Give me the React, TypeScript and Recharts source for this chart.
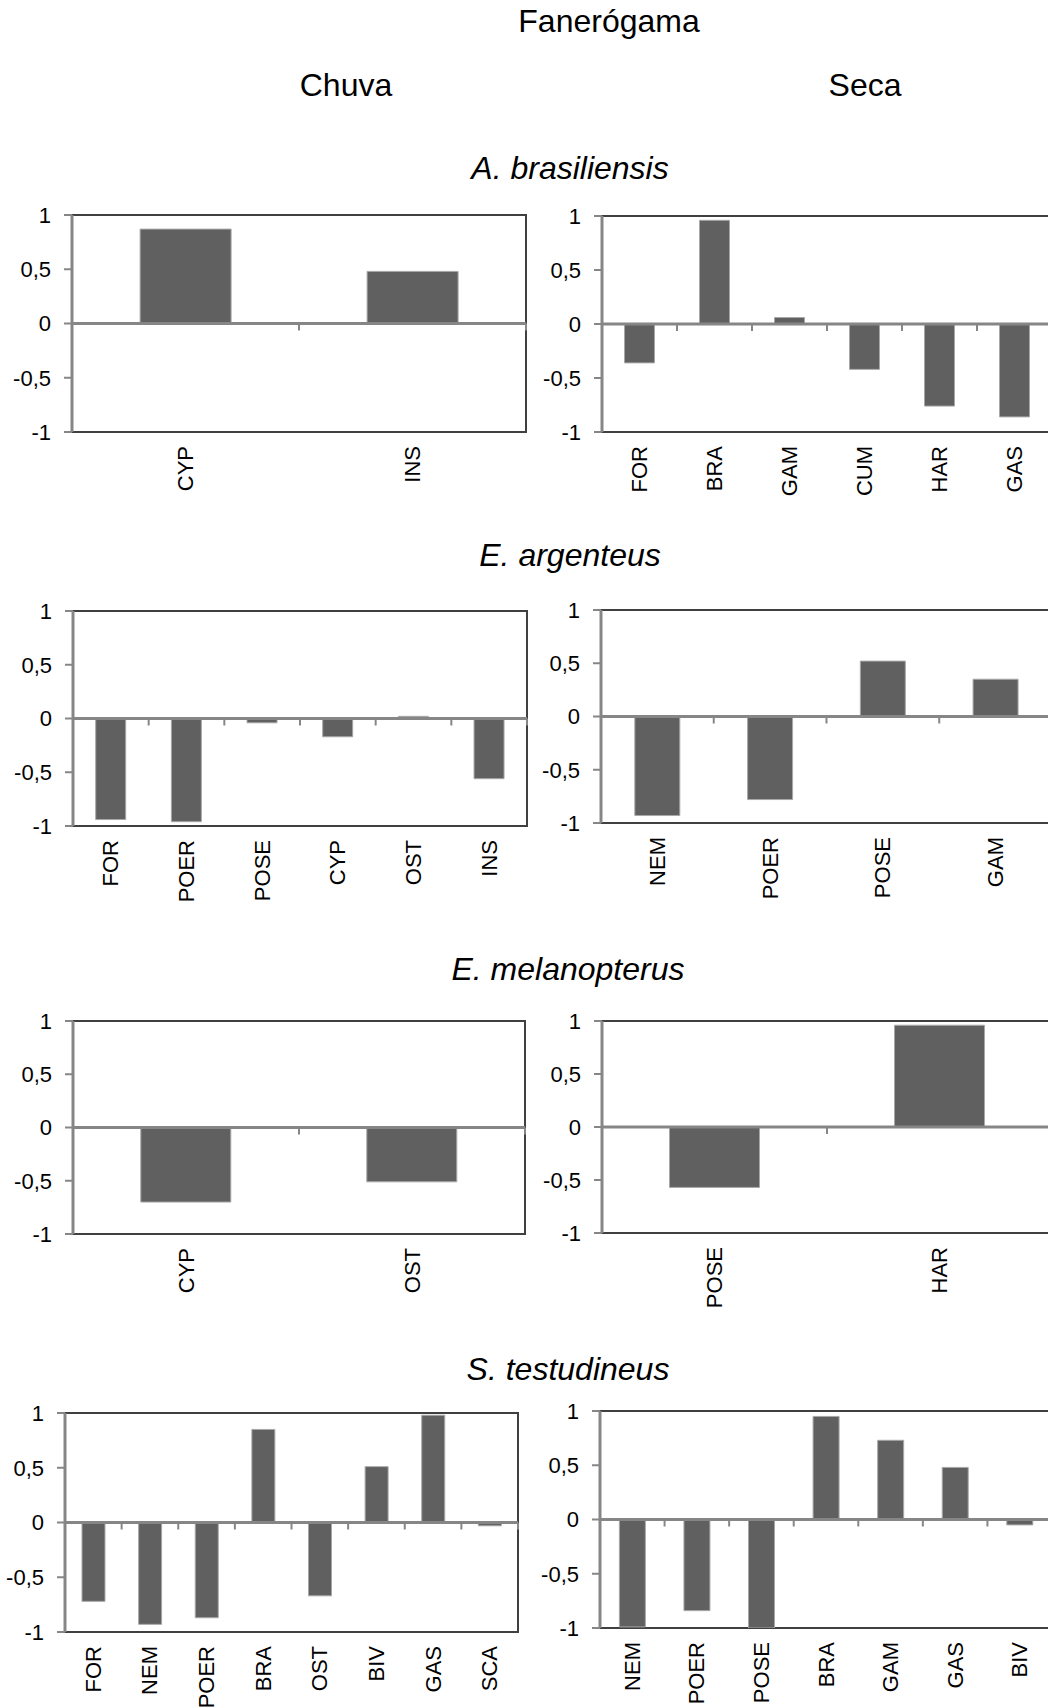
import React from "react";
import {
  BarChart,
  Bar,
  XAxis,
  YAxis,
  ReferenceLine,
  ReferenceArea,
} from "recharts";

// ---------------- data ----------------
const mainTitle = "Fanerógama";
const seasonLabels = ["Chuva", "Seca"];
const speciesNames = [
  "A. brasiliensis",
  "E. argenteus",
  "E. melanopterus",
  "S. testudineus",
];

const yTicks = [-1, -0.5, 0, 0.5, 1];

const abChuvaCats = ["CYP", "INS"];
const abChuvaVals = [0.87, 0.48];

const abSecaCats = ["FOR", "BRA", "GAM", "CUM", "HAR", "GAS"];
const abSecaVals = [-0.36, 0.96, 0.06, -0.42, -0.76, -0.86];

const eaChuvaCats = ["FOR", "POER", "POSE", "CYP", "OST", "INS"];
const eaChuvaVals = [-0.94, -0.96, -0.04, -0.17, 0.02, -0.56];

const eaSecaCats = ["NEM", "POER", "POSE", "GAM"];
const eaSecaVals = [-0.93, -0.78, 0.52, 0.35];

const emChuvaCats = ["CYP", "OST"];
const emChuvaVals = [-0.7, -0.51];

const emSecaCats = ["POSE", "HAR"];
const emSecaVals = [-0.57, 0.96];

const stChuvaCats = ["FOR", "NEM", "POER", "BRA", "OST", "BIV", "GAS", "SCA"];
const stChuvaVals = [-0.72, -0.93, -0.87, 0.85, -0.67, 0.51, 0.98, -0.03];

const stSecaCats = ["NEM", "POER", "POSE", "BRA", "GAM", "GAS", "BIV"];
const stSecaVals = [-0.99, -0.84, -1.0, 0.95, 0.73, 0.48, -0.05];

const toRows = (cats: string[], vals: number[]) =>
  cats.map((name, i) => ({ name, v: vals[i] }));

// ---------------- layout ----------------
const FONT = "'Liberation Sans', Arial, Helvetica, sans-serif";
const BAR_FILL = "#606060";
const BAR_STROKE = "#a8a8a8";
const AXIS_GRAY = "#868686";
const FRAME = "#404040";

const YAXIS_W = 72;
const MT = 16;
const MR = 2;
const XAXIS_H = 84;

type Plot = { x: number; y: number; w: number; h: number };

const leftPlots: Plot[] = [
  { x: 72, y: 215, w: 454, h: 217 },
  { x: 73, y: 611, w: 454, h: 215 },
  { x: 73, y: 1021, w: 452, h: 213 },
  { x: 65, y: 1413, w: 453, h: 219 },
];
const rightPlots: Plot[] = [
  { x: 602, y: 216, w: 450, h: 216 },
  { x: 601, y: 610, w: 451, h: 213 },
  { x: 602, y: 1021, w: 450, h: 212 },
  { x: 600, y: 1411, w: 452, h: 217 },
];

const fmt = (v: number) => String(v).replace(".", ",");

function makeXTick(h: number, halfBand: number) {
  return (props: any) => {
    const { x, y, payload } = props;
    const bx = x + halfBand;
    const zy = y - h / 2;
    return (
      <g>
        <line
          x1={bx}
          x2={bx}
          y1={zy}
          y2={zy + 7}
          stroke={AXIS_GRAY}
          strokeWidth={2}
        />
        <text
          transform={`translate(${x},${y + 14}) rotate(-90)`}
          textAnchor="end"
          dominantBaseline="central"
          fontSize={22}
          fontFamily={FONT}
          fill="#000"
        >
          {payload.value}
        </text>
      </g>
    );
  };
}

function Panel({
  plot,
  cats,
  vals,
}: {
  plot: Plot;
  cats: string[];
  vals: number[];
}) {
  const data = toRows(cats, vals);
  const width = YAXIS_W + plot.w + MR;
  const height = MT + plot.h + XAXIS_H;
  const halfBand = plot.w / cats.length / 2;
  return (
    <div
      style={{
        position: "absolute",
        left: plot.x - YAXIS_W,
        top: plot.y - MT,
        width,
        height,
      }}
    >
      <BarChart
        width={width}
        height={height}
        data={data}
        margin={{ top: MT, right: MR, left: 0, bottom: 0 }}
        barCategoryGap="30%"
      >
        <ReferenceArea
          y1={-1}
          y2={1}
          fill="none"
          stroke={FRAME}
          strokeWidth={2}
          ifOverflow="visible"
        />
        <XAxis
          dataKey="name"
          type="category"
          height={XAXIS_H}
          axisLine={false}
          tickLine={false}
          tickSize={0}
          tickMargin={0}
          interval={0}
          tick={makeXTick(plot.h, halfBand)}
        />
        <YAxis
          type="number"
          domain={[-1, 1]}
          ticks={yTicks}
          width={YAXIS_W}
          tickFormatter={fmt}
          axisLine={{ stroke: AXIS_GRAY, strokeWidth: 3 }}
          tickLine={{ stroke: AXIS_GRAY, strokeWidth: 2 }}
          tickSize={8}
          tickMargin={13}
          tick={{ fill: "#000", fontSize: 22, fontFamily: FONT }}
          allowDataOverflow
        />
        <Bar
          dataKey="v"
          fill={BAR_FILL}
          stroke={BAR_STROKE}
          strokeWidth={1}
          isAnimationActive={false}
        />
        <ReferenceLine y={0} stroke={AXIS_GRAY} strokeWidth={3} />
      </BarChart>
    </div>
  );
}

const speciesY = [179, 566, 980, 1380];
const speciesX = [570, 570, 568, 568];

export default function App() {
  const left = [
    [abChuvaCats, abChuvaVals],
    [eaChuvaCats, eaChuvaVals],
    [emChuvaCats, emChuvaVals],
    [stChuvaCats, stChuvaVals],
  ] as [string[], number[]][];
  const right = [
    [abSecaCats, abSecaVals],
    [eaSecaCats, eaSecaVals],
    [emSecaCats, emSecaVals],
    [stSecaCats, stSecaVals],
  ] as [string[], number[]][];
  return (
    <div
      style={{
        position: "absolute",
        left: 0,
        top: 0,
        width: 1048,
        height: 1708,
        overflow: "hidden",
        background: "#fff",
        fontFamily: FONT,
      }}
    >
      <svg
        width={1048}
        height={1708}
        style={{ position: "absolute", left: 0, top: 0 }}
      >
        <text
          x={609}
          y={32}
          textAnchor="middle"
          fontSize={32}
          fontFamily={FONT}
          fill="#000"
        >
          {mainTitle}
        </text>
        <text
          x={346}
          y={96}
          textAnchor="middle"
          fontSize={32}
          fontFamily={FONT}
          fill="#000"
        >
          {seasonLabels[0]}
        </text>
        <text
          x={865}
          y={96}
          textAnchor="middle"
          fontSize={32}
          fontFamily={FONT}
          fill="#000"
        >
          {seasonLabels[1]}
        </text>
        {speciesNames.map((s, i) => (
          <text
            key={s}
            x={speciesX[i]}
            y={speciesY[i]}
            textAnchor="middle"
            fontSize={32}
            fontStyle="italic"
            fontFamily={FONT}
            fill="#000"
          >
            {s}
          </text>
        ))}
      </svg>
      {left.map(([c, v], i) => (
        <Panel key={"l" + i} plot={leftPlots[i]} cats={c} vals={v} />
      ))}
      {right.map(([c, v], i) => (
        <Panel key={"r" + i} plot={rightPlots[i]} cats={c} vals={v} />
      ))}
    </div>
  );
}
